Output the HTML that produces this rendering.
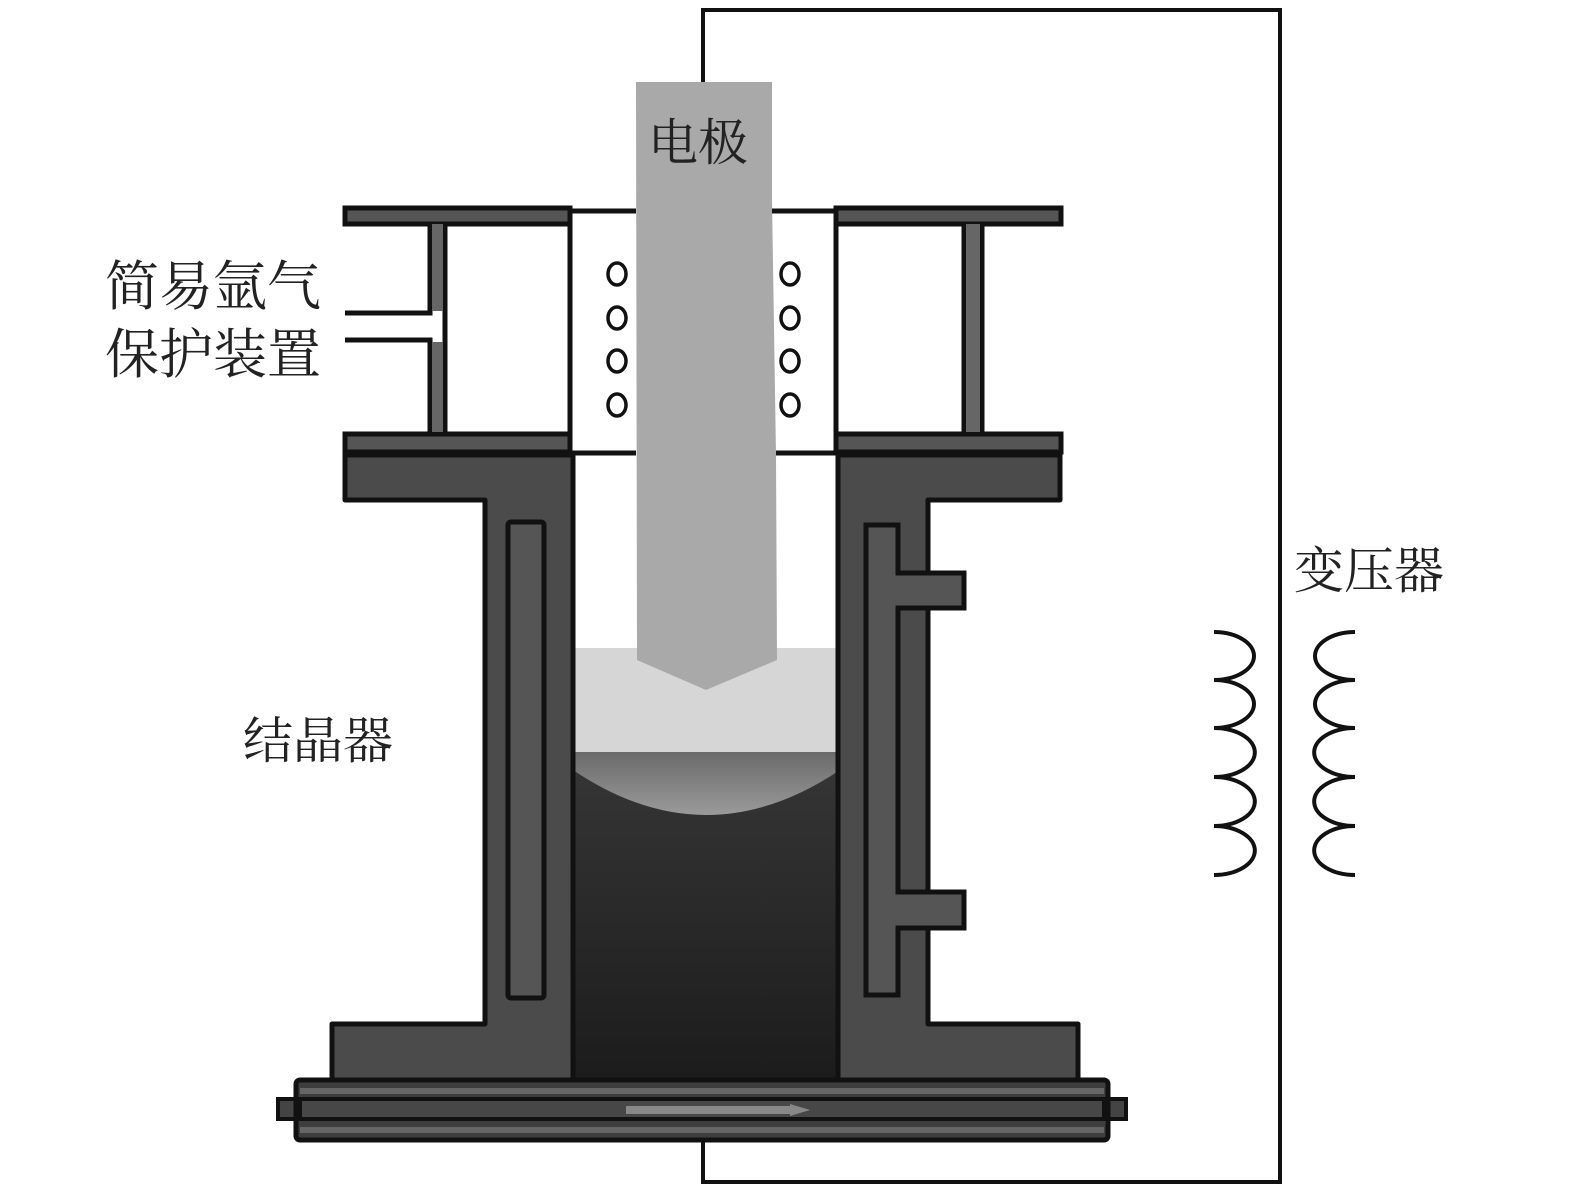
<!DOCTYPE html>
<html><head><meta charset="utf-8"><style>
html,body{margin:0;padding:0;background:#fff}
svg{display:block}
text{font-family:"Liberation Serif","Noto Serif CJK SC","Noto Sans CJK SC",serif;fill:#222}
</style></head><body>
<svg width="1575" height="1197" viewBox="0 0 1575 1197" xmlns="http://www.w3.org/2000/svg">
<defs>
<linearGradient id="ing" x1="0" y1="0" x2="0" y2="1">
<stop offset="0" stop-color="#5a5a5a"/><stop offset="0.4" stop-color="#3a3a3a"/><stop offset="1" stop-color="#1c1c1c"/>
</linearGradient>
<linearGradient id="pool" x1="0" y1="0" x2="0" y2="1">
<stop offset="0" stop-color="#6a6a6a"/><stop offset="1" stop-color="#9a9a9a"/>
</linearGradient>
</defs>
<polyline points="703,82 703,10 1280,10 1280,1182 703,1182 703,1138" fill="none" stroke="#111" stroke-width="4"/>

<rect x="573" y="455" width="265" height="625" fill="url(#ing)"/>
<rect x="573" y="455" width="265" height="193" fill="#fff"/>
<path d="M573,752 L840,752 L840,770 Q706,860 573,770 Z" fill="url(#pool)"/>
<rect x="571" y="648" width="269" height="104" fill="#d6d6d6"/>

<path d="M636,82 L772,82 L772,200 L776,455 L777,660 L706,690 L637,660 Z" fill="#a9a9a9"/>

<g stroke="#111" stroke-width="5" fill="none">
<rect x="345" y="208" width="225" height="16" fill="#555"/>
<rect x="345" y="434" width="225" height="18" fill="#555"/>
<path d="M345,313 L430,313 L430,224"/>
<path d="M345,340 L430,340 L430,434"/>
<path d="M445,224 L445,434"/>
<path d="M570,224 L570,434"/>
<rect x="836" y="208" width="225" height="16" fill="#555"/>
<rect x="836" y="434" width="225" height="18" fill="#555"/>
<path d="M836,224 L836,434"/>
<path d="M964,224 L964,434"/>
<path d="M982,224 L982,434"/>
<path d="M570,211 L636,211 M772,211 L836,211"/>
<path d="M570,453 L636,453 M776,453 L836,453"/>
</g>
<rect x="432" y="224" width="11" height="87" fill="#666"/>
<rect x="432" y="342" width="11" height="90" fill="#666"/>
<rect x="966" y="224" width="14" height="208" fill="#666"/>
<g fill="none" stroke="#111" stroke-width="3.5">
<ellipse cx="617" cy="274" rx="9" ry="11"/><ellipse cx="617" cy="318" rx="9" ry="11"/>
<ellipse cx="617" cy="361" rx="9" ry="11"/><ellipse cx="617" cy="405" rx="9" ry="11"/>
<ellipse cx="790" cy="274" rx="9" ry="11"/><ellipse cx="790" cy="318" rx="9" ry="11"/>
<ellipse cx="790" cy="361" rx="9" ry="11"/><ellipse cx="790" cy="405" rx="9" ry="11"/>
</g>

<g fill="#4b4b4b" stroke="#111" stroke-width="5" stroke-linejoin="round">
<path d="M345,455 L573,455 L573,1080 L332,1080 L332,1024 L485,1024 L485,500 L345,500 Z"/>
<path d="M838,455 L1060,455 L1060,500 L928,500 L928,1024 L1078,1024 L1078,1080 L838,1080 Z"/>
</g>
<rect x="508" y="522" width="36" height="476" rx="3" fill="#555" stroke="#111" stroke-width="5"/>
<path d="M866,525 L898,525 L898,573 L964,573 L964,608 L898,608 L898,892 L964,892 L964,928 L898,928 L898,995 L866,995 Z" fill="#555" stroke="#111" stroke-width="5"/>

<rect x="278" y="1099" width="848" height="20" fill="#444" stroke="#111" stroke-width="4"/>
<rect x="296" y="1080" width="812" height="60" rx="4" fill="#3e3e3e" stroke="#111" stroke-width="5"/>
<rect x="300" y="1088" width="804" height="6" fill="#666"/>
<rect x="300" y="1127" width="804" height="6" fill="#666"/>
<rect x="300" y="1099" width="804" height="20" fill="#474747" stroke="#111" stroke-width="4"/>
<path d="M626,1106 L790,1106 L790,1104 L810,1110 L790,1116 L790,1114 L626,1114 Z" fill="#888"/>

<path d="M1214,632 A40,24 0 0 1 1214,680 A40,24 0 0 1 1214,728 A40,24 0 0 1 1214,777 A40,24 0 0 1 1214,826 A40,24 0 0 1 1214,875" fill="none" stroke="#111" stroke-width="4"/>
<path d="M1355,632 A40,24 0 0 0 1355,680 A40,24 0 0 0 1355,728 A40,24 0 0 0 1355,777 A40,24 0 0 0 1355,826 A40,24 0 0 0 1355,875" fill="none" stroke="#111" stroke-width="4"/>

<text x="648" y="160" font-size="50">电极</text>
<text x="105" y="305" font-size="54">简易氩气</text>
<text x="105" y="373" font-size="54">保护装置</text>
<text x="243" y="758" font-size="50">结晶器</text>
<text x="1294" y="588" font-size="50">变压器</text>
</svg>
</body></html>
